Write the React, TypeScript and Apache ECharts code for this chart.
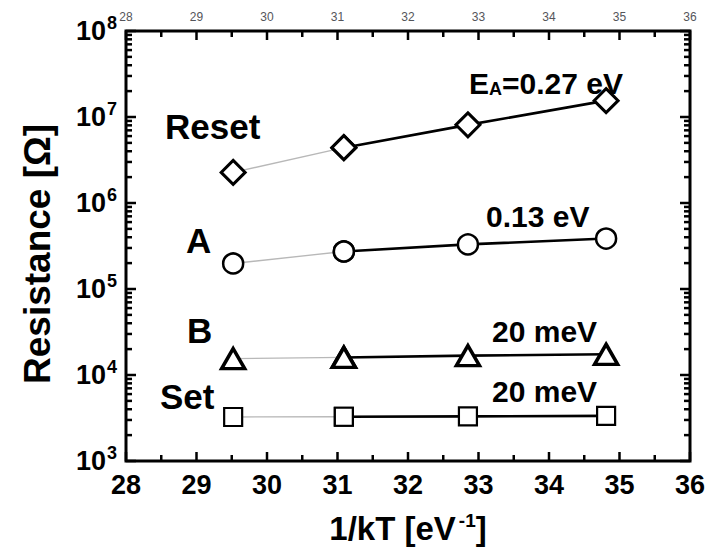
import React, { useEffect, useRef } from "react";
import * as echarts from "echarts";

// 1/kT values (eV^-1) of the four measurement temperatures
const X_VALUES = [29.52, 31.09, 32.85, 34.81];
// Resistance values (Ohm) for each state
const RESET_VALUES = [2.27e6, 4.4e6, 8.1e6, 1.55e7];
const A_VALUES = [1.98e5, 2.73e5, 3.3e5, 3.86e5];
const B_VALUES = [1.55e4, 1.6e4, 1.68e4, 1.74e4];
const SET_VALUES = [3.25e3, 3.27e3, 3.3e3, 3.35e3];

const X_MIN = 28;
const X_MAX = 36;
const Y_MIN = 1e3;
const Y_MAX = 1e8;
const Y_MAJOR_TICKS = [1e3, 1e4, 1e5, 1e6, 1e7, 1e8];
const Y_MINOR_MULTIPLIERS = [2, 3, 4, 5, 6, 7, 8, 9];
const X_MAJOR_TICKS = [28, 29, 30, 31, 32, 33, 34, 35, 36];
const X_MINOR_TICKS = [28.5, 29.5, 30.5, 31.5, 32.5, 33.5, 34.5, 35.5];

const STATE_NAMES = ["Reset", "A", "B", "Set"];
const ACTIVATION_LABELS = ["0.27 eV", "0.13 eV", "20 meV", "20 meV"];

const FONT = "'Liberation Sans', Arial, Helvetica, sans-serif";
const INK = "#000";
const TICK_W = 2.5;
const X_MAJOR_LEN = 9;
const X_MINOR_LEN = 6;
const Y_MAJOR_LEN = 10;
const Y_MINOR_LEN = 6;

const Y_MINOR_TICKS: number[] = [];
Y_MAJOR_TICKS.slice(0, -1).forEach((d) => Y_MINOR_MULTIPLIERS.forEach((m) => Y_MINOR_TICKS.push(d * m)));

function pairs(vals: number[], from: number, to: number) {
  const out: number[][] = [];
  for (let i = from; i <= to; i++) out.push([X_VALUES[i], vals[i]]);
  return out;
}

export default function App() {
  const ref = useRef<HTMLDivElement>(null);
  useEffect(() => {
    if (!ref.current) return;
    const chart = echarts.init(ref.current, null, { renderer: "svg" });

    const xAxisBase = (position: string): any => ({
      type: "value",
      position,
      min: X_MIN,
      max: X_MAX,
      interval: 1,
      axisLine: { show: false },
      axisTick: { show: false },
      splitLine: { show: false },
    });
    const yAxisBase = (position: string): any => ({
      type: "log",
      logBase: 10,
      min: Y_MIN,
      max: Y_MAX,
      position,
      axisLine: { show: false },
      axisTick: { show: false },
      axisLabel: { show: false },
      splitLine: { show: false },
    });

    const series: any[] = [];
    const datasets = [RESET_VALUES, A_VALUES, B_VALUES, SET_VALUES];
    const symbols = ["diamond", "circle", "triangle", "rect"];
    const symbolSizes: any[] = [24, 20, [23, 20], 18];
    const borderWidths = [3, 2.5, 3.5, 2.2];

    datasets.forEach((vals, i) => {
      const marker = {
        symbol: symbols[i],
        symbolSize: symbolSizes[i],
        showSymbol: true,
        itemStyle: { color: "#fff", borderColor: "#000", borderWidth: borderWidths[i], opacity: 1 },
      };
      series.push({
        type: "line",
        name: STATE_NAMES[i] + " (first)",
        data: pairs(vals, 0, 1),
        silent: true,
        lineStyle: { color: "#b8b8b8", width: 1.3 },
        z: 5,
        ...marker,
      });
      series.push({
        type: "line",
        name: STATE_NAMES[i],
        data: pairs(vals, 1, 3),
        silent: true,
        lineStyle: { color: "#000", width: 2.6 },
        z: 5,
        ...marker,
      });
    });

    const bigText = (text: string, x: number, y: number) => ({
      type: "text",
      x,
      y,
      z: 10,
      style: {
        text,
        fill: "#000",
        fontFamily: FONT,
        fontWeight: "bold",
        fontSize: 35,
        align: "left",
        verticalAlign: "middle",
      },
    });
    const eaText = (text: string, x: number, y: number) => ({
      type: "text",
      x,
      y,
      z: 10,
      style: {
        text,
        fill: "#000",
        fontFamily: FONT,
        fontWeight: "bold",
        fontSize: 30,
        align: "left",
        verticalAlign: "middle",
        rich: {
          b: { fontFamily: FONT, fontWeight: "bold", fontSize: 30, fill: "#000" },
          sub: { fontFamily: FONT, fontWeight: "bold", fontSize: 18, fill: "#000", padding: [12, 0, 0, 0] },
        },
      },
    });

    const xBottom = xAxisBase("bottom");
    xBottom.axisLabel = {
      show: true,
      color: "#000",
      fontFamily: FONT,
      fontWeight: "bold",
      fontSize: 27,
      margin: 10,
    };
    xBottom.name = "{t|1/kT [eV}{s|-1}{t|]}";
    xBottom.nameLocation = "middle";
    xBottom.nameGap = 50;
    xBottom.nameTextStyle = {
      rich: {
        t: { fontFamily: FONT, fontWeight: "bold", fontSize: 33, color: "#000" },
        s: { fontFamily: FONT, fontWeight: "bold", fontSize: 19, color: "#000", padding: [0, 0, 16, 3] },
      },
    };

    const yLeft = yAxisBase("left");
    yLeft.axisLabel = {
      show: true,
      margin: 9,
      customValues: Y_MAJOR_TICKS,
      formatter: (v: number) => "{b|10}{s|" + Math.round(Math.log10(v)) + "}",
      rich: {
        b: { fontFamily: FONT, fontWeight: "bold", fontSize: 27, color: "#000" },
        s: { fontFamily: FONT, fontWeight: "bold", fontSize: 18, color: "#000", padding: [0, 0, 16, 1] },
      },
    };
    yLeft.name = "Resistance [\u03A9]";
    yLeft.nameLocation = "middle";
    yLeft.nameGap = 70;
    yLeft.nameTextStyle = { fontFamily: FONT, fontWeight: "bold", fontSize: 37, color: "#000", padding: [0, 16, 0, 0] };

    const textGraphics = [
      bigText(STATE_NAMES[0], 165, 126),
      bigText(STATE_NAMES[1], 186, 240),
      bigText(STATE_NAMES[2], 187, 330),
      bigText(STATE_NAMES[3], 160, 396),
      eaText("{b|E}{sub|A}{b|=" + ACTIVATION_LABELS[0] + "}", 469, 83),
      eaText("{b|" + ACTIVATION_LABELS[1] + "}", 486, 216),
      eaText("{b|" + ACTIVATION_LABELS[2] + "}", 492, 331),
      eaText("{b|" + ACTIVATION_LABELS[3] + "}", 492, 391),
    ];

    chart.setOption({
      animation: false,
      backgroundColor: "#fff",
      grid: {
        left: 126,
        top: 31,
        width: 564,
        height: 431,
        show: true,
        borderColor: INK,
        borderWidth: 3,
        backgroundColor: "transparent",
      },
      xAxis: [xBottom, xAxisBase("top")],
      yAxis: [yLeft, yAxisBase("right")],
      series,
      graphic: textGraphics,
    });

    // tick marks: positions converted through the chart's own axis scales
    const toPx = (x: number, y: number) =>
      chart.convertToPixel({ xAxisIndex: 0, yAxisIndex: 0 }, [x, y]) as number[];
    const tickRects: any[] = [];
    const addX = (x: number, len: number) => {
      const b = toPx(x, Y_MIN);
      const t = toPx(x, Y_MAX);
      if (!b || !t) return;
      tickRects.push({ type: "rect", z: 20, silent: true, shape: { x: b[0] - TICK_W / 2, y: b[1] - len, width: TICK_W, height: len }, style: { fill: INK } });
      tickRects.push({ type: "rect", z: 20, silent: true, shape: { x: t[0] - TICK_W / 2, y: t[1], width: TICK_W, height: len }, style: { fill: INK } });
    };
    const addY = (y: number, len: number) => {
      const l = toPx(X_MIN, y);
      const r = toPx(X_MAX, y);
      if (!l || !r) return;
      tickRects.push({ type: "rect", z: 20, silent: true, shape: { x: l[0], y: l[1] - TICK_W / 2, width: len, height: TICK_W }, style: { fill: INK } });
      tickRects.push({ type: "rect", z: 20, silent: true, shape: { x: r[0] - len, y: r[1] - TICK_W / 2, width: len, height: TICK_W }, style: { fill: INK } });
    };
    X_MAJOR_TICKS.forEach((x) => addX(x, X_MAJOR_LEN));
    X_MINOR_TICKS.forEach((x) => addX(x, X_MINOR_LEN));
    Y_MAJOR_TICKS.forEach((y) => addY(y, Y_MAJOR_LEN));
    Y_MINOR_TICKS.forEach((y) => addY(y, Y_MINOR_LEN));

    chart.setOption({ graphic: [...textGraphics, ...tickRects] });

    return () => chart.dispose();
  }, []);

  return (
    <div
      ref={ref}
      style={{ position: "absolute", left: 0, top: 0, width: 711, height: 550, background: "#fff" }}
    />
  );
}
